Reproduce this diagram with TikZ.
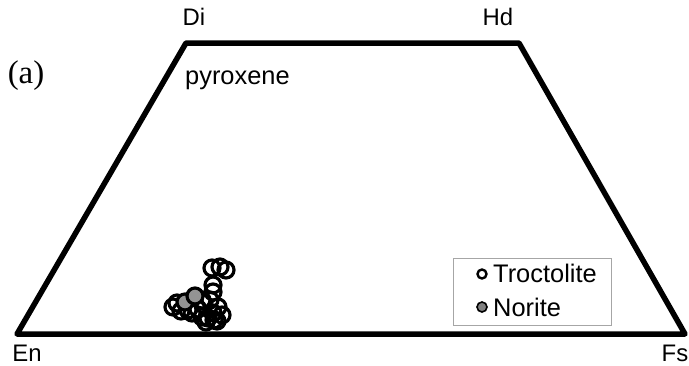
\documentclass[tikz,border=0pt]{standalone}
\usepackage{fontspec}
\setmainfont{Liberation Sans}
\newfontfamily\serifa{Liberation Serif}
\begin{document}
\begin{tikzpicture}[x=1bp,y=-1bp,
  lbl/.style={inner sep=0pt,font=\fontsize{24}{26}\selectfont},
  big/.style={inner sep=0pt,font=\fontsize{25.5}{28}\selectfont},
  trc/.style={draw=black,line width=3.2bp},
  nor/.style={draw=black,line width=3.2bp,fill=gray!85},
  legbox/.style={draw=gray!70,line width=0.8bp}]
\useasboundingbox (0,0) rectangle (689,365);
\coordinate (En) at (17,334);
\coordinate (Fs) at (685,334);
\coordinate (Hd) at (519,43);
\coordinate (Di) at (186,43);
\draw[line width=5.5bp,line join=round] (En) -- (Di) -- (Hd) -- (Fs) -- cycle;
\node[lbl] (lEn) at (27,353) {En};
\node[lbl] (lFs) at (675,353) {Fs};
\node[lbl] (lDi) at (194,17) {Di};
\node[lbl] (lHd) at (498,17) {Hd};
\node[inner sep=0pt,font=\serifa\fontsize{33}{36}\selectfont] (lab) at (26,76) {(a)};
\node[big,anchor=base west] (pyx) at (185,84) {pyroxene};
% data points
\foreach \x/\y in {212/268,220/267,226/270,213/285,213/292,210/300,218/307,213/313,222/315,217/321,
                   173/307,177/303,202/300,192/313,202/317,208/318,198/309,188/310,181/311,214/320,206/322}
  \draw[trc] (\x,\y) circle (8);
\foreach \x/\y in {185/302,195/296}
  \draw[nor] (\x,\y) circle (8);
% legend
\node[legbox,minimum width=158bp,minimum height=67bp,inner sep=0pt] (leg) at (532,291.5) {};
\node[draw=black,line width=2.4bp,circle,inner sep=0pt,minimum size=9bp] (mT) at (482,274) {};
\node[draw=black,line width=1.6bp,fill=gray,circle,inner sep=0pt,minimum size=10bp] (mN) at (482,307) {};
\node[big,anchor=base west] (tT) at (493,282) {Troctolite};
\node[big,anchor=base west] (tN) at (493,316) {Norite};
\end{tikzpicture}
\end{document}
